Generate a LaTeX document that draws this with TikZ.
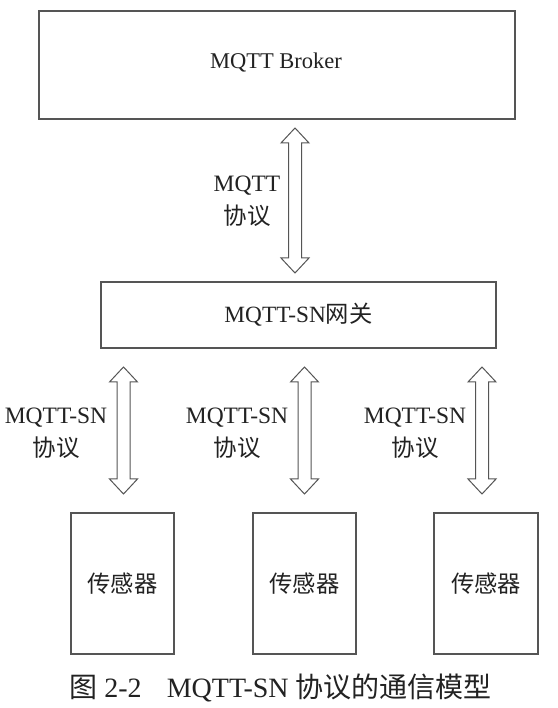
\documentclass[tikz,border=0pt]{standalone}
\usepackage{fontspec}
\setmainfont{Liberation Serif}
\newfontfamily\cjk{Noto Sans CJK SC}
\usetikzlibrary{calc}
\definecolor{linegray}{HTML}{555555}
\definecolor{textgray}{HTML}{222222}
\newcommand\blockarrow[2]{%
  \draw[arrowline] let \p1=(#1), \p2=(#2) in
    (\x1,\y1) -- (\x1+14pt,\y1-15pt) -- (\x1+6.5pt,\y1-15pt) -- (\x1+6.5pt,\y2+15pt)
    -- (\x1+14pt,\y2+15pt) -- (\x2,\y2) -- (\x1-14pt,\y2+15pt) -- (\x1-6.5pt,\y2+15pt)
    -- (\x1-6.5pt,\y1-15pt) -- (\x1-14pt,\y1-15pt) -- cycle;}
\begin{document}
\begin{tikzpicture}[x=1pt,y=1pt,
  box/.style={draw=linegray,line width=1.3pt,text=textgray,inner sep=0pt},
  arrowline/.style={draw=linegray,line width=1pt,line join=miter},
  lbl/.style={text=textgray,align=center,font=\fontsize{23.5}{33}\selectfont,inner sep=0pt},
  txt/.style={text=textgray,font=\fontsize{23.3}{27}\selectfont}]
\useasboundingbox (0,0) rectangle (557,708);
\fill[white] (0,0) rectangle (557,708);
% boxes
\node[box,minimum width=476pt,minimum height=108pt] (broker) at (277,643) {};
\node[txt,font=\fontsize{22.5}{27}\selectfont] at (276,645) {MQTT Broker};
\node[box,minimum width=395pt,minimum height=66pt] (gw) at (298.5,393) {};
\node[txt] at (298.5,393) {MQTT-SN{\cjk 网关}};
\node[box,minimum width=103pt,minimum height=141pt] (s1) at (122.5,124.5) {};
\node[box,minimum width=103pt,minimum height=141pt] (s2) at (304.5,124.5) {};
\node[box,minimum width=104pt,minimum height=141pt] (s3) at (486,124.5) {};
\node[txt] at (s1) {\cjk 传感器};
\node[txt] at (s2) {\cjk 传感器};
\node[txt] at (s3) {\cjk 传感器};
% arrow tips
\coordinate (a0t) at (295,580);
\coordinate (a0b) at (295,435);
\coordinate (a1t) at (123.5,341);
\coordinate (a1b) at (123.5,214);
\coordinate (a2t) at (304.5,341);
\coordinate (a2b) at (304.5,214);
\coordinate (a3t) at (482,341);
\coordinate (a3b) at (482,214);
\blockarrow{a0t}{a0b}
\blockarrow{a1t}{a1b}
\blockarrow{a2t}{a2b}
\blockarrow{a3t}{a3b}
% labels
\node[lbl] (l0) at (247,506.5) {MQTT\\{\cjk 协议}};
\node[lbl] (l1) at (56,274.5) {MQTT-SN\\{\cjk 协议}};
\node[lbl] (l2) at (237,274.5) {MQTT-SN\\{\cjk 协议}};
\node[lbl] (l3) at (415,274.5) {MQTT-SN\\{\cjk 协议}};
% caption
\node[txt,font=\fontsize{28}{32}\selectfont] (cap) at (280.5,20) {{\cjk 图} 2-2\hspace{0.9em}MQTT-SN {\cjk 协议的通信模型}};
\end{tikzpicture}
\end{document}
